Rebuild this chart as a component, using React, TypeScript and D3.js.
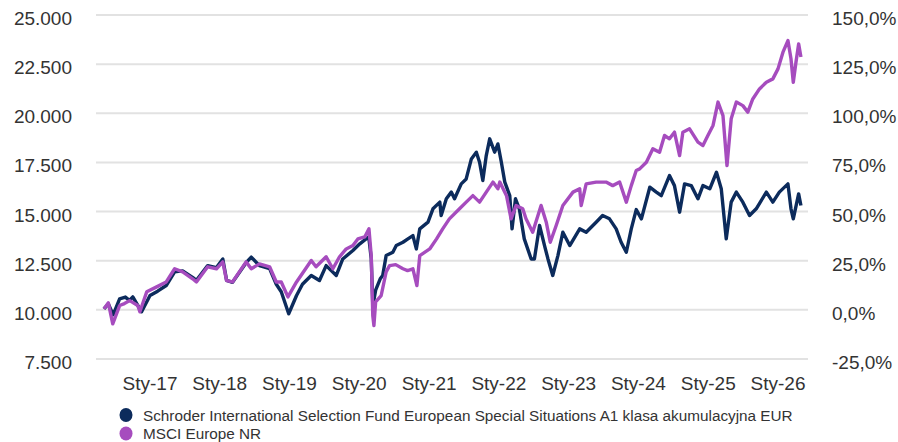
import * as d3 from 'd3';

// Schroder ISF European Special Situations A1 (growth of 10.000)
const fundSeries: [string, number][] = [
  ['2016-05-05', 10050], ['2016-05-28', 10300], ['2016-06-22', 9750], ['2016-07-26', 10560],
  ['2016-08-25', 10650], ['2016-09-15', 10480], ['2016-10-03', 10660], ['2016-11-18', 9900],
  ['2017-01-01', 10730], ['2017-02-10', 10950], ['2017-03-27', 11240],
  ['2017-05-10', 11930], ['2017-06-21', 11980], ['2017-08-12', 11650], ['2017-09-01', 11500],
  ['2017-10-30', 12250], ['2017-12-15', 12150], ['2018-01-17', 12590], ['2018-02-06', 11500],
  ['2018-03-09', 11400], ['2018-05-19', 12400], ['2018-06-15', 12680], ['2018-07-28', 12250],
  ['2018-09-19', 12100], ['2018-10-24', 11300], ['2018-11-19', 10920], ['2018-12-28', 9800],
  ['2019-02-07', 10730], ['2019-03-10', 11300], ['2019-04-25', 11750], ['2019-06-07', 11490],
  ['2019-07-12', 12250], ['2019-09-03', 11750], ['2019-10-07', 12590], ['2019-11-29', 13020],
  ['2020-01-04', 13360], ['2020-02-06', 13610], ['2020-02-20', 13710], ['2020-03-04', 12600],
  ['2020-03-12', 10300], ['2020-03-18', 10500], ['2020-03-27', 11000], ['2020-04-20', 11580],
  ['2020-05-03', 11750], ['2020-05-21', 12760], ['2020-06-25', 12930], ['2020-07-13', 13270],
  ['2020-08-17', 13440], ['2020-09-10', 13600], ['2020-10-08', 13780], ['2020-10-26', 13100],
  ['2020-11-13', 14120], ['2020-12-26', 14460],
  ['2021-01-21', 15140], ['2021-02-26', 15480], ['2021-03-05', 14800], ['2021-04-01', 15650],
  ['2021-04-27', 15990], ['2021-05-14', 15650], ['2021-06-18', 16410], ['2021-07-14', 16660],
  ['2021-08-10', 17680], ['2021-09-05', 18020], ['2021-09-22', 17510], ['2021-10-09', 16580],
  ['2021-10-27', 17850], ['2021-11-14', 18700], ['2021-12-10', 18020], ['2021-12-27', 18440],
  ['2022-01-14', 17510], ['2022-02-01', 16500], ['2022-02-27', 15810], ['2022-03-11', 14120],
  ['2022-03-29', 15650], ['2022-04-18', 15140], ['2022-05-14', 13610], ['2022-06-19', 12590],
  ['2022-07-06', 12590], ['2022-08-02', 14290], ['2022-08-28', 13270], ['2022-09-15', 12590],
  ['2022-10-10', 11750], ['2022-11-06', 12760], ['2022-12-02', 13950], ['2023-01-07', 13270],
  ['2023-02-28', 14120], ['2023-04-03', 13950], ['2023-05-25', 14460], ['2023-06-28', 14800],
  ['2023-08-03', 14630], ['2023-09-07', 14120], ['2023-10-03', 13440], ['2023-10-30', 12930],
  ['2023-11-25', 14120], ['2023-12-21', 15100], ['2024-01-17', 14630], ['2024-03-01', 16240],
  ['2024-04-04', 15990], ['2024-04-30', 15810], ['2024-06-12', 16830], ['2024-07-08', 16320],
  ['2024-08-04', 14970], ['2024-08-30', 16410], ['2024-10-04', 16320], ['2024-11-08', 15650],
  ['2024-12-04', 16320], ['2025-01-09', 16160], ['2025-02-13', 17000], ['2025-03-10', 16160],
  ['2025-04-05', 13610], ['2025-05-01', 15480], ['2025-05-28', 15990], ['2025-07-01', 15480],
  ['2025-08-05', 14800], ['2025-09-09', 15140], ['2025-11-01', 15990], ['2025-12-05', 15480],
  ['2026-01-08', 15990], ['2026-02-22', 16410], ['2026-03-10', 15140], ['2026-03-22', 14630],
  ['2026-04-19', 15900], ['2026-05-01', 15310],
];

// MSCI Europe NR (growth of 10.000)
const indexSeries: [string, number][] = [
  ['2016-05-05', 10050], ['2016-05-28', 10360], ['2016-06-20', 9290], ['2016-07-26', 10220],
  ['2016-08-20', 10320], ['2016-09-17', 10470], ['2016-10-29', 10220], ['2016-11-09', 9900],
  ['2016-12-15', 10920],
  ['2017-02-05', 11170], ['2017-03-27', 11420], ['2017-05-10', 12090], ['2017-06-21', 11930],
  ['2017-08-12', 11580], ['2017-09-01', 11420], ['2017-10-30', 12190], ['2017-12-15', 12090],
  ['2018-01-17', 12440], ['2018-02-06', 11490], ['2018-03-09', 11420], ['2018-05-19', 12440],
  ['2018-06-15', 12090], ['2018-07-28', 12340], ['2018-09-19', 12190], ['2018-10-24', 11420],
  ['2018-11-19', 11420], ['2018-12-24', 10660], ['2019-02-07', 11420], ['2019-04-25', 12510],
  ['2019-05-20', 12190], ['2019-07-12', 12700], ['2019-08-16', 12090], ['2019-09-20', 12700],
  ['2019-10-25', 13100], ['2019-11-29', 13270], ['2019-12-25', 13610], ['2020-01-30', 13710],
  ['2020-02-21', 14120], ['2020-03-04', 12760], ['2020-03-12', 9710], ['2020-03-18', 9200],
  ['2020-03-27', 10410], ['2020-04-25', 10730], ['2020-05-21', 11930], ['2020-06-08', 12250],
  ['2020-07-10', 12300], ['2020-08-17', 12090], ['2020-09-10', 12000], ['2020-10-08', 12090],
  ['2020-10-29', 11240], ['2020-11-13', 12760],
  ['2021-01-04', 13100], ['2021-02-09', 13610], ['2021-03-13', 14120], ['2021-04-17', 14630],
  ['2021-06-09', 15140], ['2021-07-14', 15480], ['2021-08-18', 15810], ['2021-09-22', 15480],
  ['2021-10-27', 15990], ['2021-12-01', 16500], ['2021-12-27', 16160], ['2022-01-06', 16500],
  ['2022-02-10', 15810], ['2022-03-06', 14630], ['2022-04-01', 15310], ['2022-05-06', 15140],
  ['2022-05-23', 14630], ['2022-06-27', 13950], ['2022-08-10', 15310], ['2022-09-06', 14460],
  ['2022-09-27', 13440], ['2022-10-28', 14290], ['2022-12-02', 15310], ['2023-01-24', 15990],
  ['2023-02-28', 16160], ['2023-03-08', 15310], ['2023-04-03', 16410], ['2023-05-25', 16500],
  ['2023-07-16', 16500], ['2023-08-20', 16320], ['2023-09-25', 16500], ['2023-10-30', 15480],
  ['2023-11-25', 16320], ['2023-12-21', 17090], ['2024-01-08', 17170], ['2024-02-12', 17510],
  ['2024-03-17', 18190], ['2024-04-21', 18020], ['2024-05-17', 18870], ['2024-06-12', 18700],
  ['2024-07-08', 19040], ['2024-08-04', 17850], ['2024-08-21', 19040], ['2024-09-25', 19210],
  ['2024-11-08', 18530], ['2024-12-04', 18360], ['2024-12-30', 18870], ['2025-01-26', 19380],
  ['2025-02-21', 20570], ['2025-03-19', 19880], ['2025-04-09', 17340], ['2025-05-01', 19720],
  ['2025-05-28', 20570], ['2025-07-01', 20390], ['2025-07-27', 20060], ['2025-08-22', 20730],
  ['2025-09-26', 21240], ['2025-11-01', 21580], ['2025-12-05', 21750], ['2026-01-01', 22260],
  ['2026-01-27', 23110], ['2026-02-22', 23700], ['2026-03-10', 22770], ['2026-03-22', 21580],
  ['2026-04-05', 22600], ['2026-04-19', 23530], ['2026-05-01', 22860],
];

const leftTicks = [7500, 10000, 12500, 15000, 17500, 20000, 22500, 25000];
const rightTicks = [-25, 0, 25, 50, 75, 100, 125, 150];
const xTickYears = [2017, 2018, 2019, 2020, 2021, 2022, 2023, 2024, 2025, 2026];
const xTickPrefix = 'Sty-';

const seriesNames = [
  'Schroder International Selection Fund European Special Situations A1 klasa akumulacyjna EUR',
  'MSCI Europe NR',
];
const seriesColors = ['#0c2b5c', '#a64cbe'];

const W = 898;
const H = 442;
const plot = { left: 96, right: 808, top: 15, bottom: 359 };

const plLocale = d3.formatLocale({
  decimal: ',',
  thousands: '.',
  grouping: [3],
  currency: ['', ' zł'],
  minus: '-',
});
const fmtLeft = plLocale.format(',');
const fmtRight = (v: number) => plLocale.format('.1f')(v) + '%';

const parse = d3.timeParse('%Y-%m-%d');

export default function App() {
  const x = d3
    .scaleTime()
    .domain([new Date(2017, 0, 1), new Date(2026, 0, 1)])
    .range([150, 778]);
  const yL = d3.scaleLinear().domain([7500, 25000]).range([plot.bottom, plot.top]);
  const yR = d3.scaleLinear().domain([-25, 150]).range([plot.bottom, plot.top]);

  const line = d3
    .line<[string, number]>()
    .x((d) => x(parse(d[0])!))
    .y((d) => yL(d[1]));

  const font = 'Liberation Sans, Arial, Helvetica, sans-serif';

  return (
    <div style={{ position: 'fixed', left: 0, top: 0, width: W, height: H, background: '#fff' }}>
      <svg width={W} height={H} style={{ display: 'block' }} fontFamily={font}>
        {/* grid */}
        {leftTicks.map((t) => (
          <line
            key={t}
            x1={plot.left}
            x2={plot.right}
            y1={yL(t)}
            y2={yL(t)}
            stroke="#e2e2e2"
            strokeWidth={2}
          />
        ))}

        {/* left axis */}
        {leftTicks.map((t) => (
          <text key={'l' + t} x={72} y={yL(t) + 10} textAnchor="end" fontSize={19} fill="#333">
            {fmtLeft(t)}
          </text>
        ))}

        {/* right axis */}
        {rightTicks.map((t) => (
          <text key={'r' + t} x={832} y={yR(t) + 10} textAnchor="start" fontSize={19} fill="#333">
            {fmtRight(t)}
          </text>
        ))}

        {/* x axis */}
        {xTickYears.map((yr) => (
          <text
            key={yr}
            x={x(new Date(yr, 0, 1))}
            y={390}
            textAnchor="middle"
            fontSize={19}
            fill="#333"
          >
            {xTickPrefix + String(yr).slice(2)}
          </text>
        ))}

        {/* lines */}
        <path
          d={line(fundSeries) || ''}
          fill="none"
          stroke={seriesColors[0]}
          strokeWidth={3.4}
          strokeLinejoin="round"
        />
        <path
          d={line(indexSeries) || ''}
          fill="none"
          stroke={seriesColors[1]}
          strokeWidth={3.4}
          strokeLinejoin="round"
        />

        {/* legend */}
        {seriesNames.map((name, i) => (
          <g key={name} transform={`translate(126,${415 + i * 18.5})`}>
            <ellipse cx={0} cy={0} rx={6.5} ry={7} fill={seriesColors[i]} />
            <text x={17} y={5.5} fontSize={15.3} fill="#333">
              {name}
            </text>
          </g>
        ))}
      </svg>
    </div>
  );
}
